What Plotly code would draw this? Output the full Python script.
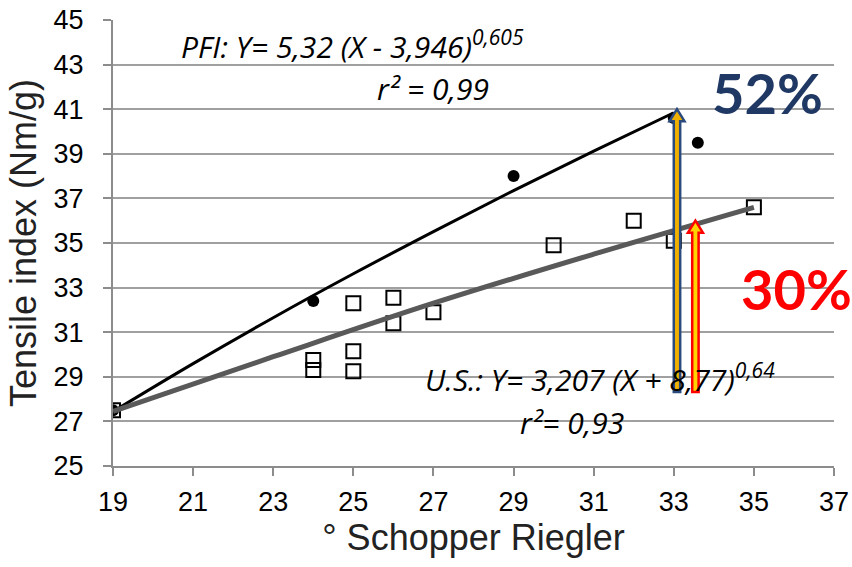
import plotly.graph_objects as go

# ---- data ----
pfi_x = [19, 24, 29, 33, 33.6]
pfi_y = [27.5, 32.4, 38.0, 40.6, 39.5]

us_x = [19, 24, 24, 25, 25, 25, 26, 26, 27, 30, 32, 33, 35]
us_y = [27.5, 29.75, 29.3, 32.3, 30.15, 29.25, 32.55, 31.4, 31.9, 34.9, 36.0, 35.1, 36.6]

pfi_fit_x = [19, 21, 23, 25, 27, 29, 31, 33]
pfi_fit_y = [27.44, 29.59, 31.65, 33.62, 35.51, 37.35, 39.12, 40.84]

us_fit_x = [19, 23, 27, 31, 35]
us_fit_y = [27.45, 29.9, 32.3, 34.5, 36.6]

x_ticks = list(range(19, 38, 2))
y_ticks = list(range(25, 46, 2))

# arrows (x position, start, end) in data units
blue_arrow = (33.08, 28.32, 41.0)
red_arrow = (33.54, 28.32, 36.0)

W, H = 852, 567
ML, MR, MT, MB = 113, 18, 20, 101
XR = (19, 37)
YR = (25, 45)
px_x = (W - ML - MR) / (XR[1] - XR[0])
px_y = (H - MT - MB) / (YR[1] - YR[0])


def arrow_path(xc, y0, y1, hw_px=3.2, HW_px=7.5, hh_px=12):
    hw = hw_px / px_x
    HW = HW_px / px_x
    hh = hh_px / px_y
    yb = y1 - hh
    pts = [(xc - hw, y0), (xc - hw, yb), (xc - HW, yb), (xc, y1),
           (xc + HW, yb), (xc + hw, yb), (xc + hw, y0)]
    return "M " + " L ".join(f"{a},{b}" for a, b in pts) + " Z"


fig = go.Figure()

fig.add_trace(go.Scatter(
    x=pfi_x, y=pfi_y, mode="markers",
    marker=dict(symbol="circle", size=12, color="black"),
    showlegend=False))
fig.add_trace(go.Scatter(
    x=us_x, y=us_y, mode="markers",
    marker=dict(symbol="square-open", size=14, color="black", line=dict(width=2, color="black")),
    showlegend=False))
fig.add_trace(go.Scatter(
    x=pfi_fit_x, y=pfi_fit_y, mode="lines", line=dict(color="black", width=3, shape="spline"),
    showlegend=False))
fig.add_trace(go.Scatter(
    x=us_fit_x, y=us_fit_y, mode="lines", line=dict(color="#595959", width=5, shape="spline"),
    showlegend=False))

fig.add_shape(type="path", path=arrow_path(*blue_arrow), xref="x", yref="y",
              fillcolor="#F0B000", line=dict(color="#2B4A7E", width=2.5), layer="above")
fig.add_shape(type="path", path=arrow_path(*red_arrow), xref="x", yref="y",
              fillcolor="#FFD200", line=dict(color="#FF0000", width=2.5), layer="above")

eq_font = dict(family="Open Sans", size=30, color="black")
annos = [
    dict(x=352, y=45, text="<i>PFI: Y= 5,32 (X - 3,946)<sup>0,605</sup></i>", font=eq_font),
    dict(x=433, y=88, text="<i>r² = 0,99</i>", font=eq_font),
    dict(x=600, y=378, text="<i>U.S.: Y= 3,207 (X + 8,77)<sup>0,64</sup></i>", font=eq_font),
    dict(x=572, y=422, text="<i>r²= 0,93</i>", font=eq_font),
    dict(x=767, y=92, text="<b>52%</b>", font=dict(family="Lato", size=56, color="#1F3864")),
    dict(x=796, y=288, text="<b>30%</b>", font=dict(family="Lato", size=56, color="#FF0000")),
]
for a in annos:
    fig.add_annotation(
        x=(a["x"] - ML) / (W - ML - MR), y=1 - (a["y"] - MT) / (H - MT - MB),
        xref="paper", yref="paper", text=a["text"], font=a["font"],
        showarrow=False, xanchor="center", yanchor="middle")

axis_common = dict(
    showline=True, linecolor="#8C8C8C", linewidth=2,
    ticks="outside", ticklen=8, tickcolor="#8C8C8C", tickwidth=2,
    tickfont=dict(family="Liberation Sans", size=27, color="black"),
    zeroline=False, automargin=False,
)
fig.update_xaxes(
    range=list(XR), tickvals=x_ticks, showgrid=False,
    title=dict(text="° Schopper Riegler", font=dict(family="Liberation Sans", size=36, color="#222"), standoff=4),
    ticklabelstandoff=3, **axis_common)
fig.update_yaxes(
    range=list(YR), tickvals=y_ticks, showgrid=True, gridcolor="#A0A0A0", gridwidth=2,
    title=dict(text="Tensile index (Nm/g)", font=dict(family="Liberation Sans", size=36, color="#222"), standoff=6),
    ticklabelstandoff=14, **axis_common)

fig.update_layout(
    width=W, height=H,
    margin=dict(l=ML, r=MR, t=MT, b=MB, autoexpand=False),
    plot_bgcolor="white", paper_bgcolor="white",
    showlegend=False,
)

fig.write_html("out.html")
